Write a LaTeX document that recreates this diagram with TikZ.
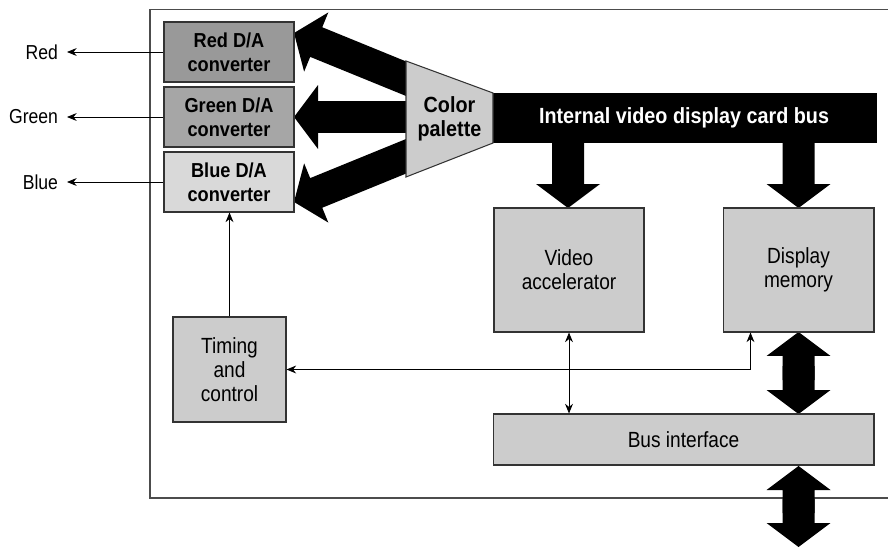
\documentclass[tikz,border=0pt]{standalone}
\usepackage{fontspec}
\setmainfont{Liberation Sans}
\newfontfamily\narrowfont{Liberation Sans}[FakeStretch=0.9]
\newfontfamily\condfont{Liberation Sans}[FakeStretch=0.87]
\usetikzlibrary{calc,arrows.meta}

% fat block arrow from #1 (tail) to #2 (tip)
\newcommand{\fatarrow}[2]{%
  \coordinate (fa-b) at ($(#2)!0.48cm!(#1)$);
  \fill ($(#1)!0.32cm!90:(#2)$) -- ($(fa-b)!0.32cm!90:(#2)$) -- ($(fa-b)!0.64cm!90:(#2)$) -- (#2)
    -- ($(fa-b)!0.64cm!-90:(#2)$) -- ($(fa-b)!0.32cm!-90:(#2)$) -- ($(#1)!0.32cm!-90:(#2)$) -- cycle;}

\tikzset{
  box/.style={draw=black!80, fill=black!20, align=center, inner sep=0pt,
    font=\fontsize{12.5}{13.5}\selectfont\condfont},
  dac/.style={box, minimum width=2.6cm, minimum height=1.2cm,
    font=\fontsize{11.5}{13.5}\selectfont\narrowfont\bfseries},
  lbl/.style={anchor=east, inner xsep=0.17cm, inner ysep=0pt,
    font=\fontsize{11.5}{12}\selectfont\condfont},
  sig/.style={line width=0.5pt, >={Stealth[length=5.5pt,width=4.5pt]}}
}

\begin{document}
\begin{tikzpicture}[x=0.02cm, y=-0.02cm, line width=0.6pt]
    \useasboundingbox (0,0) rectangle (888,547);

    % Card outline
    \draw[black!70] (888,9.5) -- (150,9.5) -- (150,498) -- (888,498);

    % Fat arrows: palette to converters
    \fatarrow{419,84}{294,33}
    \fatarrow{419,117}{294,117}
    \fatarrow{419,151}{294,202}
    % Fat arrows: bus to accelerator and memory
    \fatarrow{568,130}{568,208}
    \fatarrow{798.5,130}{798.5,208}
    % Fat arrows: memory <-> bus interface <-> outside
    \fatarrow{798.5,380}{798.5,332}
    \fatarrow{798.5,366}{798.5,414}
    \fatarrow{798.5,513}{798.5,466}
    \fatarrow{798.5,499}{798.5,547}

    % Internal bus and color palette
    \node[fill=black, text=white, minimum width=7.74cm, minimum height=1cm, inner sep=0pt,
      font=\fontsize{12.5}{14}\selectfont\narrowfont\bfseries] (bus) at (684,118) {Internal video display card bus};
    \draw[draw=black!80, fill=black!20] (406,61) -- (493,93) -- (493,143) -- (406,177) -- cycle;
    \node[align=center, font=\fontsize{12.5}{13.5}\selectfont\narrowfont\bfseries] (palette) at (449.5,119) {Color\\palette};

    % D/A converters
    \node[dac, fill=black!40] (reddac) at (229,52) {Red D/A\\converter};
    \node[dac, fill=black!35] (greendac) at (229,117) {Green D/A\\converter};
    \node[dac, fill=black!15] (bluedac) at (229,182) {Blue D/A\\converter};

    % Outputs
    \node[lbl] (red) at (67,52) {Red};
    \node[lbl] (green) at (67,117) {Green};
    \node[lbl] (blue) at (67,182) {Blue};
    \draw[sig, ->] (reddac) -- (red);
    \draw[sig, ->] (greendac) -- (green);
    \draw[sig, ->] (bluedac) -- (blue);

    % Other blocks
    \node[box, minimum width=3cm, minimum height=2.48cm] (accel) at (569,270) {Video\\accelerator};
    \node[box, minimum width=3.02cm, minimum height=2.48cm] (dispmem) at (798.5,270) {Display\\memory};
    \node[box, minimum width=7.62cm, minimum height=1.02cm] (busif) at (683.5,439.5) {Bus interface};
    \node[box, minimum width=2.26cm, minimum height=2.1cm] (timing) at (229.5,369.5) {Timing\\and\\control};

    % Control lines
    \coordinate (memtap) at ($(dispmem.south west)+(28,0)$);
    \draw[sig, ->] (timing.north) -- (timing.north |- bluedac.south);
    \draw[sig, <->] (memtap) |- (timing.east);
    \draw[sig, <->] (accel.south) -- (accel.south |- busif.north);

\end{tikzpicture}
\end{document}
